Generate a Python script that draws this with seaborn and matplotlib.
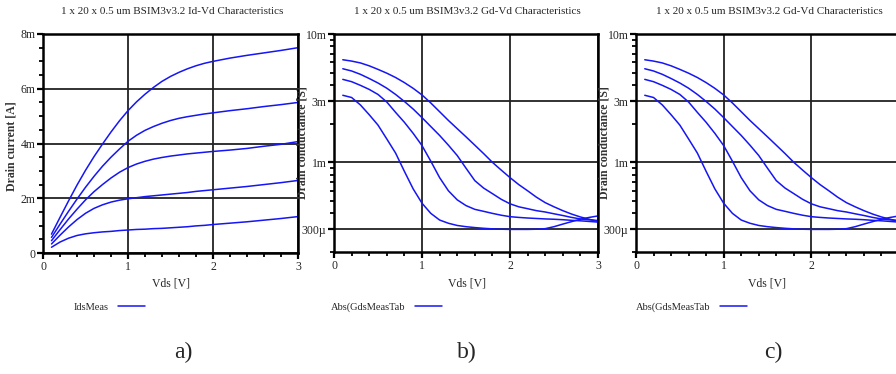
import numpy as np
import pandas as pd
import matplotlib
matplotlib.use("Agg")
import matplotlib.pyplot as plt
from matplotlib.ticker import FixedLocator, MultipleLocator, FuncFormatter
import seaborn as sns

# ---- Id-Vd data (drain current in mA), five gate biases ----
vds_id = [0.1, 0.2, 0.3, 0.4, 0.5, 0.6, 0.7, 0.8, 0.9, 1.0, 1.1, 1.2, 1.3, 1.4, 1.5,
          1.6, 1.7, 1.8, 1.9, 2.0, 2.2, 2.4, 2.6, 2.8, 3.0]
id_vg1 = [0.69, 1.3, 1.9, 2.48, 3.02, 3.52, 3.98, 4.42, 4.83, 5.2, 5.52, 5.8, 6.05, 6.27, 6.45,
          6.6, 6.73, 6.84, 6.93, 7.0, 7.12, 7.22, 7.31, 7.4, 7.5]
id_vg2 = [0.57, 1.05, 1.52, 1.97, 2.4, 2.8, 3.17, 3.5, 3.8, 4.08, 4.3, 4.48, 4.62, 4.74, 4.84,
          4.92, 4.98, 5.03, 5.08, 5.12, 5.2, 5.27, 5.35, 5.42, 5.5]
id_vg3 = [0.45, 0.85, 1.24, 1.6, 1.94, 2.24, 2.5, 2.74, 2.95, 3.12, 3.25, 3.35, 3.43, 3.49, 3.54,
          3.58, 3.62, 3.65, 3.68, 3.71, 3.76, 3.82, 3.9, 3.97, 4.07]
id_vg4 = [0.33, 0.65, 0.95, 1.22, 1.45, 1.63, 1.76, 1.86, 1.93, 1.98, 2.02, 2.06, 2.09, 2.12, 2.15,
          2.18, 2.21, 2.25, 2.28, 2.31, 2.37, 2.43, 2.5, 2.57, 2.65]
id_vg5 = [0.21, 0.4, 0.54, 0.64, 0.7, 0.74, 0.77, 0.79, 0.82, 0.84, 0.86, 0.87, 0.89, 0.9, 0.92,
          0.94, 0.96, 0.99, 1.01, 1.04, 1.09, 1.14, 1.2, 1.26, 1.33]

# ---- Gd-Vd data (drain conductance in mS), four gate biases ----
vds_gd = [0.1, 0.2, 0.3, 0.4, 0.5, 0.6, 0.7, 0.8, 0.9, 1.0, 1.1, 1.2, 1.3, 1.4, 1.5,
          1.6, 1.7, 1.8, 1.9, 2.0, 2.1, 2.2, 2.3, 2.4, 2.5, 2.6, 2.7, 2.8, 2.9, 3.0]
gd_vg1 = [6.3, 6.15, 5.95, 5.65, 5.3, 4.95, 4.58, 4.18, 3.77, 3.35, 2.9, 2.48, 2.12, 1.83, 1.58,
          1.36, 1.17, 1.0, 0.87, 0.76, 0.67, 0.6, 0.535, 0.485, 0.45, 0.42, 0.395, 0.375, 0.36, 0.346]
gd_vg2 = [5.36, 5.15, 4.85, 4.5, 4.15, 3.78, 3.38, 2.98, 2.6, 2.23, 1.9, 1.62, 1.36, 1.13, 0.9,
          0.72, 0.63, 0.57, 0.515, 0.475, 0.45, 0.435, 0.42, 0.41, 0.397, 0.385, 0.372, 0.362, 0.356, 0.352]
gd_vg3 = [4.43, 4.25, 3.98, 3.7, 3.38, 2.95, 2.45, 2.05, 1.68, 1.35, 1.02, 0.76, 0.6, 0.51, 0.46,
          0.43, 0.415, 0.4, 0.387, 0.377, 0.372, 0.368, 0.365, 0.362, 0.36, 0.357, 0.353, 0.35, 0.346, 0.342]
gd_vg4 = [3.33, 3.2, 2.8, 2.35, 1.95, 1.52, 1.18, 0.85, 0.62, 0.48, 0.4, 0.355, 0.335, 0.322, 0.315,
          0.31, 0.306, 0.303, 0.301, 0.3, 0.3, 0.3, 0.301, 0.304, 0.315, 0.33, 0.345, 0.36, 0.372, 0.382]

x_ticks = [0, 1, 2, 3]
id_ticks = [0, 2, 4, 6, 8]
id_tick_labels = ["0", "2m", "4m", "6m", "8m"]
gd_ticks = [0.3, 1, 3, 10]
gd_tick_labels = ["300\u00b5", "1m", "3m", "10m"]

title_id = "1 x 20 x 0.5 um BSIM3v3.2 Id-Vd Characteristics"
title_gd = "1 x 20 x 0.5 um BSIM3v3.2 Gd-Vd Characteristics"
legend_id = "IdsMeas"
legend_gd = "Abs(GdsMeasTab"
panel_tags = ["a)", "b)", "c)"]

sns.set_theme(style="white")
plt.rcParams["font.family"] = ["Liberation Serif", "DejaVu Serif"]

W, H = 896, 374
fig = plt.figure(figsize=(W / 100, H / 100), dpi=100)
fig.patch.set_facecolor("white")


def px_axes(left, right, top, bottom):
    return fig.add_axes([left / W, 1 - bottom / H, (right - left) / W, (bottom - top) / H])


def long_frame(x, series):
    rows = []
    for i, ys in enumerate(series):
        for xv, yv in zip(x, ys):
            rows.append({"Vds": xv, "val": yv, "curve": f"c{i}"})
    return pd.DataFrame(rows)


blue = "#1515f5"
df_id = long_frame(vds_id, [id_vg1, id_vg2, id_vg3, id_vg4, id_vg5])
df_id["val"] = df_id["val"] * 1e-3
df_gd = long_frame(vds_gd, [gd_vg1, gd_vg2, gd_vg3, gd_vg4])
df_gd["val"] = df_gd["val"] * 1e-3


def style_axes(ax, show_last_x=True):
    ax.set_facecolor("white")
    for s in ax.spines.values():
        s.set_visible(True)
        s.set_color("black")
        s.set_linewidth(1.8)
    ax.grid(True, which="major", color="#222222", linewidth=1.3)
    ax.grid(False, which="minor")
    ax.set_axisbelow(True)
    ax.tick_params(which="major", direction="out", length=4, width=1.6, color="black",
                   labelsize=8.5, pad=1.5, bottom=True, left=True)
    ax.tick_params(which="minor", direction="out", length=3, width=1.3, color="black",
                   bottom=True, left=True)
    ax.set_xlim(0, 3)
    ax.xaxis.set_major_locator(FixedLocator(x_ticks))
    last = x_ticks[-1]
    ax.xaxis.set_major_formatter(FuncFormatter(
        lambda v, p: "" if (not show_last_x and abs(v - last) < 1e-9) else f"{v:g}"))
    ax.xaxis.set_minor_locator(MultipleLocator(0.2))
    ax.set_xlabel("")
    ax.set_ylabel("")


# Panel a: Id-Vd
ax_a = px_axes(43, 298, 34, 253)
sns.lineplot(data=df_id, x="Vds", y="val", units="curve", estimator=None,
             color=blue, linewidth=1.1, ax=ax_a, legend=False)
style_axes(ax_a)
ax_a.set_ylim(0, 8e-3)
ax_a.yaxis.set_major_locator(FixedLocator([v * 1e-3 for v in id_ticks]))
ax_a.yaxis.set_major_formatter(FuncFormatter(lambda v, p: id_tick_labels[int(round(v * 1e3 / 2))]))
ax_a.yaxis.set_minor_locator(MultipleLocator(0.5e-3))

# Panels b and c: Gd-Vd on a log scale
gd_axes = []
for (l, r), show_last in [((334, 598), True), ((636, 899), False)]:
    ax = px_axes(l, r, 34, 252)
    sns.lineplot(data=df_gd, x="Vds", y="val", units="curve", estimator=None,
                 color=blue, linewidth=1.1, ax=ax, legend=False)
    ax.set_yscale("log")
    style_axes(ax, show_last_x=show_last)
    ax.set_ylim(2e-4, 1e-2)
    ax.yaxis.set_major_locator(FixedLocator([v * 1e-3 for v in gd_ticks]))
    label_map = dict(zip([round(t * 1e-3, 6) for t in gd_ticks], gd_tick_labels))
    ax.yaxis.set_major_formatter(FuncFormatter(lambda v, p, m=label_map: m.get(round(v, 6), "")))
    minors = [k * 1e-4 for k in (2, 4, 5, 6, 7, 8, 9)] + [2e-3] + [k * 1e-3 for k in (4, 5, 6, 7, 8, 9)]
    ax.yaxis.set_minor_locator(FixedLocator(minors))
    ax.yaxis.set_minor_formatter(FuncFormatter(lambda v, p: ""))
    gd_axes.append(ax)

# Titles, axis labels, legends and panel tags
for cx, title in [(172, title_id), (467, title_gd), (769, title_gd)]:
    fig.text(cx / W, 1 - 11 / H, title, ha="center", va="center", fontsize=8)
for cx in (171, 467, 767):
    fig.text(cx / W, 1 - 283 / H, "Vds [V]", ha="center", va="center", fontsize=8.5)

fig.text(12 / W, 1 - 146 / H, "Drain current [A]", rotation=90, ha="center", va="center",
         fontsize=8.5, fontweight="bold", color="#333333")
for cx in (302, 604):
    fig.text(cx / W, 1 - 143 / H, "Drain conductance [S]", rotation=90, ha="center",
             va="center", fontsize=8.5, fontweight="bold", color="#333333")

for ax, lbl, tx in [(ax_a, legend_id, 78), (gd_axes[0], legend_gd, 335), (gd_axes[1], legend_gd, 640)]:
    handle = ax.get_lines()[0]
    ax.legend([handle], [lbl], loc="center left", bbox_to_anchor=((tx - 4) / W, 1 - 307 / H),
              bbox_transform=fig.transFigure, frameon=False, markerfirst=False,
              fontsize=7.5, handlelength=2.6, handletextpad=0.9, borderpad=0, borderaxespad=0)

for cx, tag in zip((183, 467, 773), panel_tags):
    fig.text(cx / W, 1 - 352 / H, tag, ha="center", va="center", fontsize=17)

fig.savefig("out.png", dpi=100, facecolor="white")
